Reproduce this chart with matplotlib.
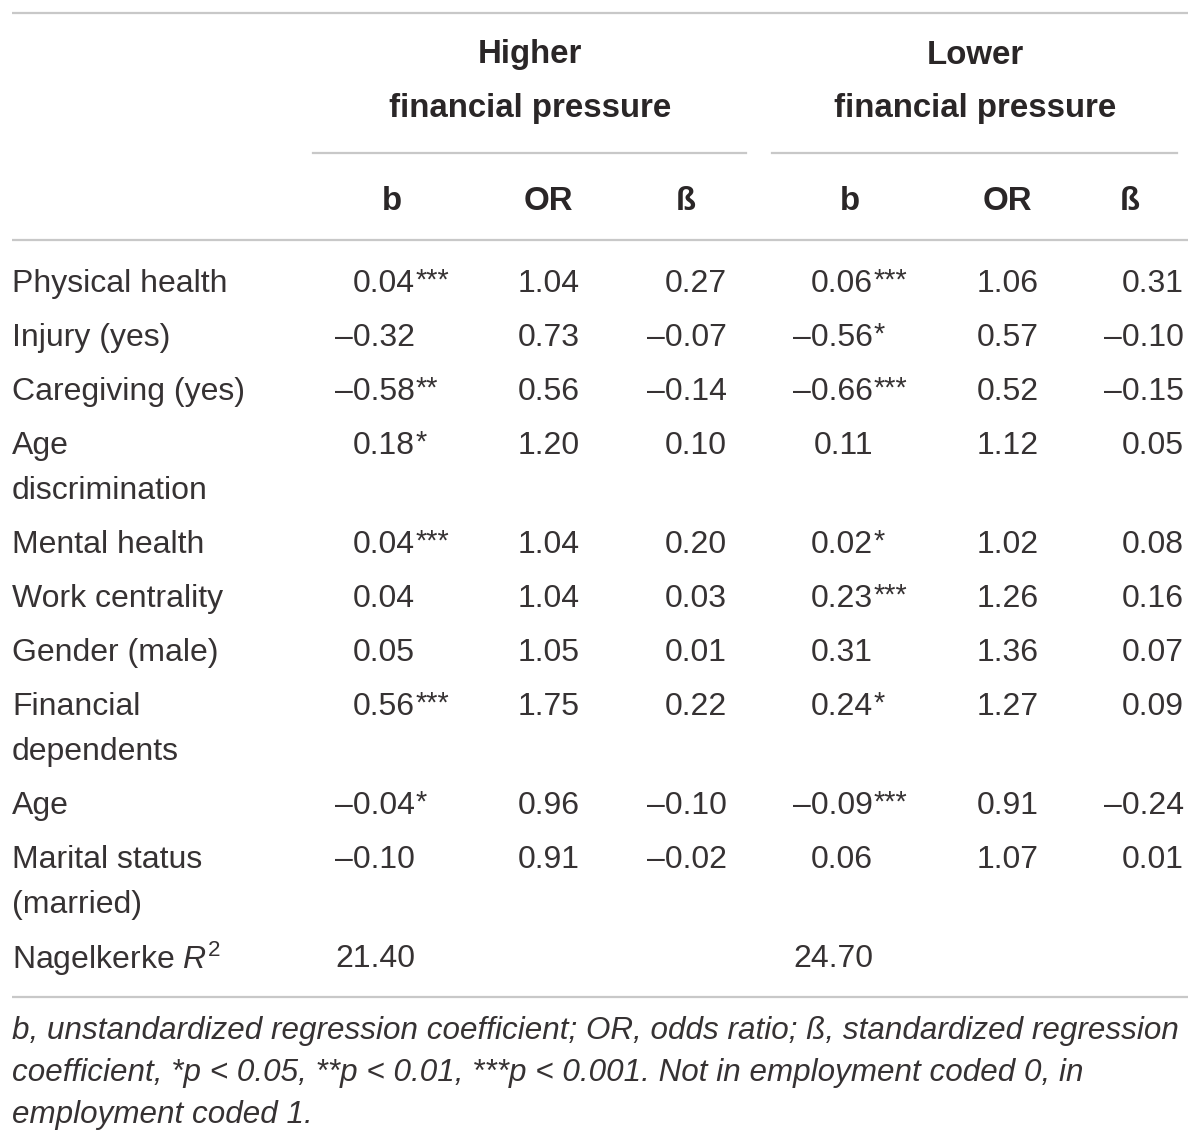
import matplotlib
matplotlib.use("Agg")
import matplotlib.pyplot as plt

plt.rcParams["mathtext.fontset"] = "custom"
plt.rcParams["mathtext.rm"] = "Liberation Sans"
plt.rcParams["mathtext.it"] = "Liberation Sans:italic"

# --- data ---
row_labels = ["Physical health", "Injury (yes)", "Caregiving (yes)", "Age\ndiscrimination",
              "Mental health", "Work centrality", "Gender (male)", "Financial\ndependents",
              "Age", "Marital status\n(married)"]
high_b = ["0.04", "\u20130.32", "\u20130.58", "0.18", "0.04", "0.04", "0.05", "0.56", "\u20130.04", "\u20130.10"]
high_b_sig = ["***", "", "**", "*", "***", "", "", "***", "*", ""]
high_or = ["1.04", "0.73", "0.56", "1.20", "1.04", "1.04", "1.05", "1.75", "0.96", "0.91"]
high_beta = ["0.27", "\u20130.07", "\u20130.14", "0.10", "0.20", "0.03", "0.01", "0.22", "\u20130.10", "\u20130.02"]
low_b = ["0.06", "\u20130.56", "\u20130.66", "0.11", "0.02", "0.23", "0.31", "0.24", "\u20130.09", "0.06"]
low_b_sig = ["***", "*", "***", "", "*", "***", "", "*", "***", ""]
low_or = ["1.06", "0.57", "0.52", "1.12", "1.02", "1.26", "1.36", "1.27", "0.91", "1.07"]
low_beta = ["0.31", "\u20130.10", "\u20130.15", "0.05", "0.08", "0.16", "0.07", "0.09", "\u20130.24", "0.01"]
r2_label = "Nagelkerke $\\mathit{R}^{2}$"
r2_high = "21.40"
r2_low = "24.70"
group_names = ["Higher\nfinancial pressure", "Lower\nfinancial pressure"]
sub_headers = ["b", "OR", "\u00df"]
footnote = ["b, unstandardized regression coefficient; OR, odds ratio; \u00df, standardized regression",
            "coefficient, *p < 0.05, **p < 0.01, ***p < 0.001. Not in employment coded 0, in",
            "employment coded 1."]

# --- layout (pixels) ---
W, H = 1200, 1144
txt = "#2a2627"
body_c = "#363233"
line_c = "#c8c8c8"
fam = ["Liberation Sans", "DejaVu Sans"]
fs = 23.0
fs_head = 23.8
row_y = [284, 338, 392, 446, 545, 599, 653, 707, 806, 860]
line_gap = 45
r2_y = 959

fig = plt.figure(figsize=(W / 100, H / 100), dpi=100)
ax = fig.add_axes([0, 0, 1, 1])
ax.set_xlim(0, W)
ax.set_ylim(H, 0)
ax.axis("off")

# rules
for y in (13, 240, 997):
    ax.plot([12, 1188], [y, y], color=line_c, lw=1.6, solid_capstyle="butt")
ax.plot([313, 746], [153, 153], color=line_c, lw=1.6)
ax.plot([772, 1177], [153, 153], color=line_c, lw=1.6)

# group headers
for cx, name in zip([530, 975], group_names):
    top, bot = name.split("\n")
    ax.text(cx, 55, top, ha="center", va="center", fontsize=fs_head, fontweight="bold", color=txt, family=fam)
    ax.text(cx, 109, bot, ha="center", va="center", fontsize=fs_head, fontweight="bold", color=txt, family=fam)

head_x = [392, 548, 686, 850, 1007, 1130]
for hx, h in zip(head_x, sub_headers * 2):
    ax.text(hx, 202, h, ha="center", va="center", fontsize=fs_head, fontweight="bold", color=txt, family=fam)

# body
col_right = [415, 580, 727, 873, 1039, 1184]
cols = [high_b, high_or, high_beta, low_b, low_or, low_beta]
sigs = {0: high_b_sig, 3: low_b_sig}
for i, lab in enumerate(row_labels):
    y = row_y[i]
    for k, part in enumerate(lab.split("\n")):
        ax.text(12, y + k * line_gap, part, ha="left", va="center", fontsize=fs,
                color=body_c, family=fam)
    for j, col in enumerate(cols):
        ax.text(col_right[j], y, col[i], ha="right", va="center", fontsize=fs,
                color=body_c, family=fam)
        if j in sigs and sigs[j][i]:
            ax.text(col_right[j] + 1, y - 3, sigs[j][i], ha="left", va="center", fontsize=fs * 0.9,
                    color=body_c, family=fam)

ax.text(12, r2_y, r2_label, ha="left", va="center", fontsize=fs, color=body_c, family=fam)
ax.text(col_right[0], r2_y, r2_high, ha="right", va="center", fontsize=fs, color=body_c, family=fam)
ax.text(col_right[3], r2_y, r2_low, ha="right", va="center", fontsize=fs, color=body_c, family=fam)

for k, ln in enumerate(footnote):
    ax.text(12, 1031 + k * 42, ln, ha="left", va="center", fontsize=22.6, style="italic",
            color=body_c, family=fam)

fig.savefig("out.png", dpi=100, facecolor="white")
